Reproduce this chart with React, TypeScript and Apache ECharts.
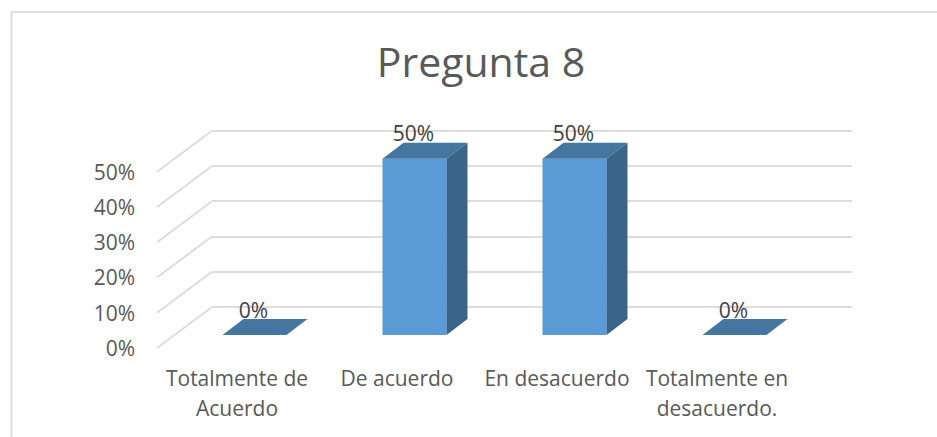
import React, { useEffect, useRef } from "react";
import * as echarts from "echarts";

const titleText = "Pregunta 8";
const categories = ["Totalmente de\nAcuerdo", "De acuerdo", "En desacuerdo", "Totalmente en\ndesacuerdo."];
const values = [0, 50, 50, 0];
const ticks = [0, 10, 20, 30, 40, 50];

const FRONT = "#5B9BD5";
const SIDE = "#3A6488";
const TOP = "#44769F";
const GRID = "#DDDDDD";

const WALL_DX = 55;
const WALL_DY = 41;
const BAR_DX = 17.5;
const BAR_DY = 13;
const DEPTH_DX = 21;
const DEPTH_DY = 16;

export default function App() {
  const ref = useRef<HTMLDivElement>(null);
  useEffect(() => {
    document.body.style.margin = "0";
    const chart = echarts.init(ref.current!, undefined, { renderer: "svg" });
    const font = "Open Sans";
    chart.setOption({
      animation: false,
      backgroundColor: "#fff",
      title: {
        text: titleText,
        left: 476,
        top: 35,
        textAlign: "center",
        textStyle: { fontFamily: font, fontSize: 41, fontWeight: 400, color: "#595959" },
      },
      graphic: [
        {
          type: "polyline",
          silent: true,
          shape: { points: [[11.5, 437], [11.5, 12], [937, 12]] },
          style: { stroke: "#DEDEDE", lineWidth: 2, fill: "none" },
        },
      ],
      grid: [
        { left: 157, top: 171.7, width: 640, height: 176.3, containLabel: false },
        { left: 157 + WALL_DX, top: 171.7 - WALL_DY, width: 640, height: 176.3 },
      ],
      xAxis: [
        {
          type: "category",
          gridIndex: 0,
          data: categories,
          axisLine: { show: false },
          axisTick: { show: false },
          axisLabel: {
            interval: 0,
            margin: 15,
            fontFamily: font,
            fontSize: 21,
            lineHeight: 30,
            color: "#595959",
          },
        },
        { type: "category", gridIndex: 1, data: categories, show: false },
      ],
      yAxis: [
        {
          type: "value",
          gridIndex: 0,
          min: 0,
          max: 50,
          interval: 10,
          axisLine: { show: false },
          axisTick: { show: false },
          splitLine: { show: false },
          axisLabel: {
            margin: 22,
            fontFamily: font,
            fontSize: 21,
            color: "#595959",
            formatter: "{value}%",
          },
        },
        {
          type: "value",
          gridIndex: 1,
          min: 0,
          max: 50,
          interval: 10,
          axisLine: { show: false },
          axisTick: { show: false },
          axisLabel: { show: false },
          splitLine: { show: true, lineStyle: { color: GRID, width: 2 } },
        },
      ],
      series: [
        {
          type: "custom",
          xAxisIndex: 0,
          yAxisIndex: 0,
          z: 1,
          silent: true,
          data: ticks.map((t) => [0, t]),
          renderItem: (_p: any, api: any) => {
            const c = api.coord([0, api.value(1)]);
            const x0 = c[0] - api.size([1, 0])[0] / 2;
            return {
              type: "line",
              shape: { x1: x0, y1: c[1], x2: x0 + WALL_DX, y2: c[1] - WALL_DY },
              style: { stroke: GRID, lineWidth: 2 },
            };
          },
        },
        {
          type: "custom",
          xAxisIndex: 0,
          yAxisIndex: 0,
          z: 3,
          silent: true,
          data: values.map((v, i) => [i, v]),
          renderItem: (_p: any, api: any) => {
            const idx = api.value(0);
            const val = api.value(1);
            const top = api.coord([idx, val]);
            const base = api.coord([idx, 0]);
            const w = api.size([1, 0])[0] * 0.4;
            const x0 = top[0] + BAR_DX - w / 2;
            const x1 = x0 + w;
            const yT = top[1] - BAR_DY;
            const yB = base[1] - BAR_DY;
            const children: any[] = [];
            if (yB - yT > 0.5) {
              children.push({
                type: "rect",
                shape: { x: x0, y: yT, width: w, height: yB - yT },
                style: { fill: FRONT },
              });
              children.push({
                type: "polygon",
                shape: {
                  points: [
                    [x1, yT],
                    [x1 + DEPTH_DX, yT - DEPTH_DY],
                    [x1 + DEPTH_DX, yB - DEPTH_DY],
                    [x1, yB],
                  ],
                },
                style: { fill: SIDE },
              });
            }
            children.push({
              type: "polygon",
              shape: {
                points: [
                  [x0, yT],
                  [x0 + DEPTH_DX, yT - DEPTH_DY],
                  [x1 + DEPTH_DX, yT - DEPTH_DY],
                  [x1, yT],
                ],
              },
              style: { fill: TOP },
            });
            children.push({
              type: "text",
              x: x0 + w / 2 - 1,
              y: yT - 25.5,
              style: {
                text: `${val}%`,
                fontFamily: font,
                fontSize: 21,
                fill: "#404040",
                align: "center",
                verticalAlign: "middle",
              },
            });
            return { type: "group", children };
          },
        },
      ],
    });
    return () => chart.dispose();
  }, []);
  return <div ref={ref} style={{ width: 937, height: 437 }} />;
}
